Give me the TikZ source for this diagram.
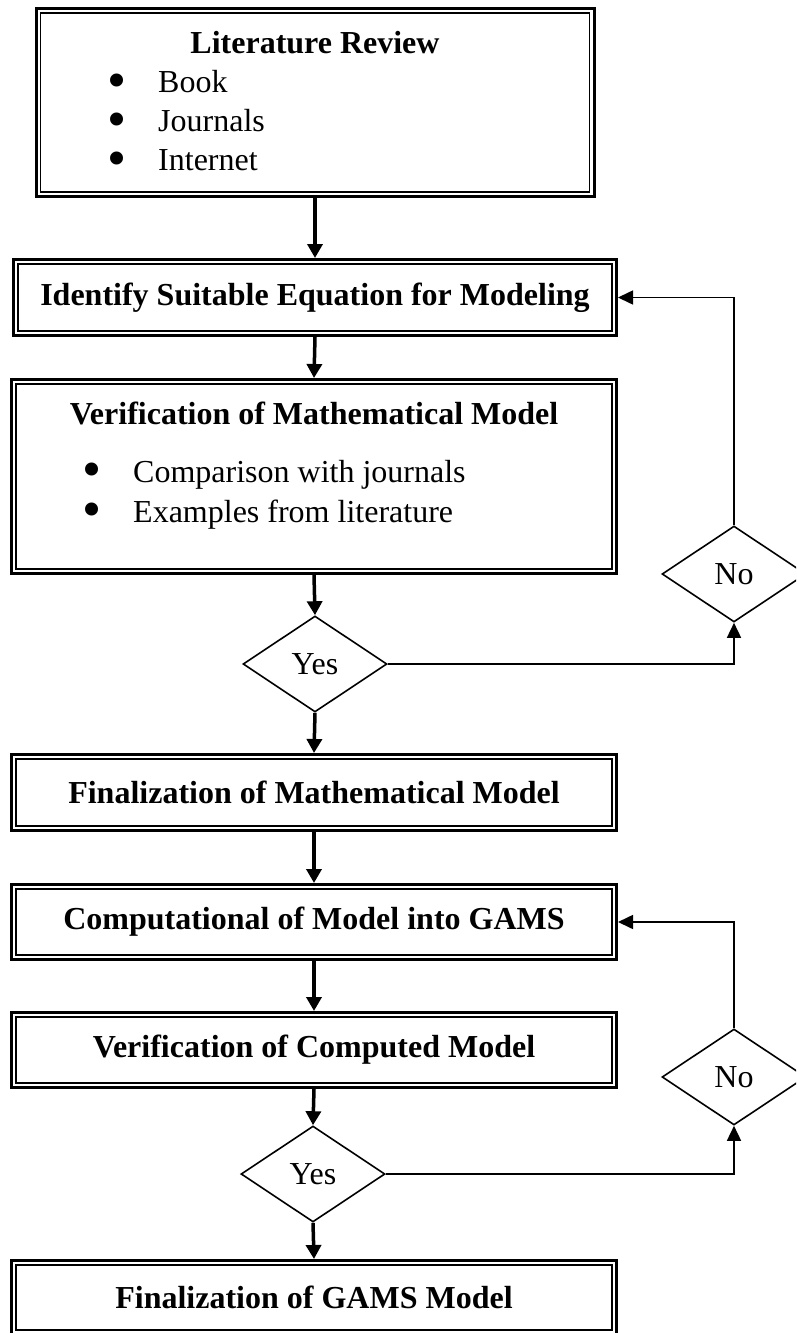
\documentclass[tikz,border=0pt]{standalone}
\usepackage{fontspec}
\setmainfont{Liberation Serif}
\usetikzlibrary{arrows.meta,shapes.geometric}
\newcommand\innerbox[1]{\draw[line width=1.8pt] ([xshift=6pt,yshift=-6pt]#1.north west) rectangle ([xshift=-6pt,yshift=6pt]#1.south east);}
\newcommand\bigbul{\scalebox{1.7}{\textbullet}}
\begin{document}
\begin{tikzpicture}[x=1pt,y=-1pt,
  every node/.style={font=\fontsize{32}{38}\selectfont},
  dbox/.style={draw,line width=3pt,inner sep=0pt,font=\fontsize{32}{38}\selectfont\bfseries},
  dia/.style={draw,diamond,line width=1.6pt,inner sep=0pt,aspect=1.5,minimum width=144pt,minimum height=96pt},
  mainarrow/.style={line width=3.5pt,-{Triangle[width=15pt,length=14pt]}},
  fbarrow/.style={line width=1.6pt,-{Triangle[width=14pt,length=15pt]}},
  txt/.style={anchor=base west,inner sep=0pt},
  bul/.style={anchor=base,inner sep=0pt},
  ttl/.style={anchor=base,inner sep=0pt,font=\fontsize{32}{38}\selectfont\bfseries}
]
\useasboundingbox (0,0) rectangle (796,1333);
\clip (0,0) rectangle (796,1333);

% boxes
\node[dbox,minimum width=558pt,minimum height=188pt] (b1) at (315,102.5) {};
\node[dbox,minimum width=603pt,minimum height=76pt] (b2) at (315,297.5) {Identify Suitable Equation for Modeling};
\node[dbox,minimum width=605pt,minimum height=194pt] (b3) at (314,476.5) {};
\node[dbox,minimum width=605pt,minimum height=76pt] (b4) at (314,792.5) {Finalization of Mathematical Model};
\node[dbox,minimum width=605pt,minimum height=75pt] (b5) at (314,922) {Computational of Model into GAMS};
\node[dbox,minimum width=605pt,minimum height=75pt] (b6) at (314,1050) {Verification of Computed Model};
\node[dbox,minimum width=605pt,minimum height=74pt] (b7) at (314,1297.5) {Finalization of GAMS Model};
\innerbox{b1}\innerbox{b2}\innerbox{b3}\innerbox{b4}\innerbox{b5}\innerbox{b6}\innerbox{b7}

% box 1 content
\node[ttl] (t1) at (315,53) {Literature Review};
\node[bul] (d11) at (117,98) {\bigbul};
\node[txt] (l11) at (158,92) {Book};
\node[bul] (d12) at (117,137) {\bigbul};
\node[txt] (l12) at (158,131) {Journals};
\node[bul] (d13) at (117,176) {\bigbul};
\node[txt] (l13) at (158,170) {Internet};

% box 3 content
\node[ttl] (t3) at (314,424) {Verification of Mathematical Model};
\node[bul] (d31) at (92,487) {\bigbul};
\node[txt] (l31) at (133,482) {Comparison with journals};
\node[bul] (d32) at (92,527) {\bigbul};
\node[txt] (l32) at (133,522) {Examples from literature};

% decisions
\node[dia] (y1) at (315,664) {Yes};
\node[dia] (n1) at (734,574) {No};
\node[dia] (y2) at (313,1174) {Yes};
\node[dia] (n2) at (734,1077) {No};

% main flow
\draw[mainarrow] (b1.south) -- (b2.north);
\draw[mainarrow] (b2.south) -- (b3.north);
\draw[mainarrow] (b3.south) -- (y1.north);
\draw[mainarrow] (y1.south) -- (b4.north);
\draw[mainarrow] (b4.south) -- (b5.north);
\draw[mainarrow] (b5.south) -- (b6.north);
\draw[mainarrow] (b6.south) -- (y2.north);
\draw[mainarrow] (y2.south) -- (b7.north);

% feedback loops
\draw[fbarrow] (y1.east) -| (n1.south);
\draw[fbarrow] (n1.north) |- (b2.east);
\draw[fbarrow] (y2.east) -| (n2.south);
\draw[fbarrow] (n2.north) |- (b5.east);
\end{tikzpicture}
\end{document}
